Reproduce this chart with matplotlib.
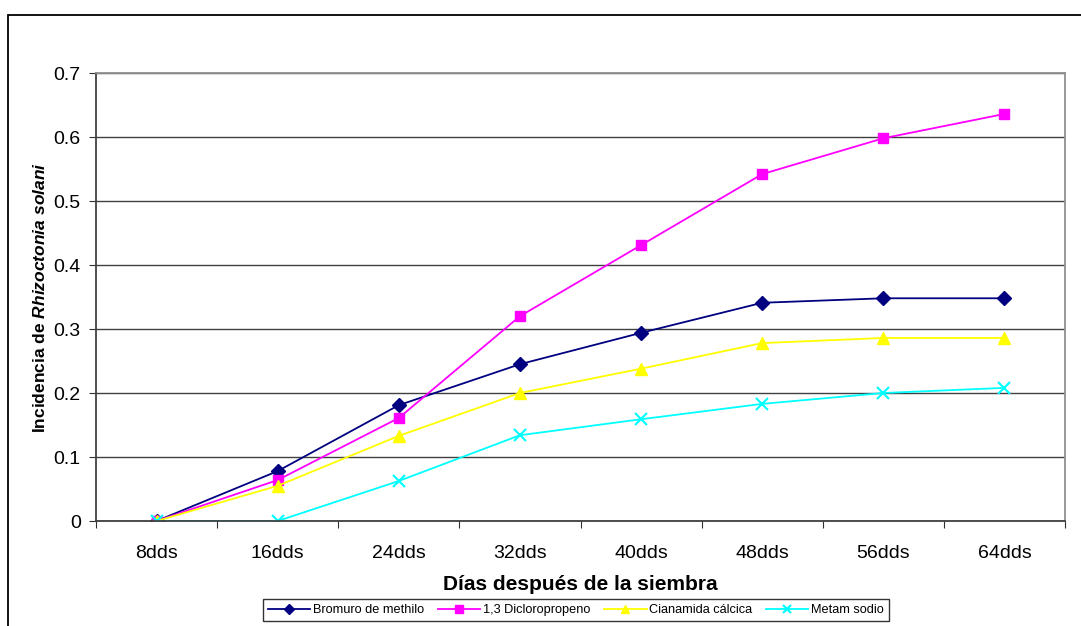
import matplotlib.pyplot as plt
from matplotlib.patches import Rectangle
import numpy as np

plt.rcParams['font.family'] = ['Liberation Sans', 'DejaVu Sans']
plt.rcParams['mathtext.fontset'] = 'custom'
plt.rcParams['mathtext.it'] = 'Liberation Sans:italic:bold'
plt.rcParams['mathtext.rm'] = 'Liberation Sans:bold'

# dias despues de la siembra
dias = ["8dds", "16dds", "24dds", "32dds", "40dds", "48dds", "56dds", "64dds"]

bromuro = [0.0, 0.078, 0.181, 0.245, 0.294, 0.341, 0.348, 0.348]
dicloro = [0.0, 0.064, 0.161, 0.320, 0.431, 0.542, 0.598, 0.636]
cianamida = [0.0, 0.055, 0.133, 0.200, 0.238, 0.278, 0.286, 0.286]
metam = [0.0, 0.0, 0.0625, 0.134, 0.159, 0.183, 0.200, 0.208]

series = [
    ("Bromuro de methilo", bromuro, "#000080", "D", 7),
    ("1,3 Dicloropropeno", dicloro, "#FF00FF", "s", 7),
    ("Cianamida cálcica", cianamida, "#FFFF00", "^", 8),
    ("Metam sodio", metam, "#00FFFF", "x", 8),
]

fig = plt.figure(figsize=(10.81, 6.26), dpi=100)
ax = fig.add_axes([96 / 1081, 1 - 521 / 626, (1065 - 96) / 1081, (521 - 73) / 626])

# outer chart border
fig.patches.append(Rectangle((8 / 1081, -0.05), 1.1, 1 - 15 / 626 + 0.05,
                             transform=fig.transFigure, fill=False,
                             edgecolor="black", linewidth=1.3))

x = np.arange(len(dias))
for name, vals, col, mk, ms in series:
    ax.plot(x, vals, color=col, lw=1.3, marker=mk, markersize=ms,
            markeredgecolor=col, markerfacecolor=col,
            markeredgewidth=1.5 if mk == "x" else 1, label=name)

ax.set_xlim(-0.5, len(dias) - 0.5)
ax.set_ylim(0, 0.7)
ax.set_yticks(np.arange(0, 0.71, 0.1))
ax.set_yticklabels(["0", "0.1", "0.2", "0.3", "0.4", "0.5", "0.6", "0.7"])
ax.yaxis.grid(True, color="#404040", lw=1)
ax.set_axisbelow(True)

ax.set_xticks(np.arange(-0.5, len(dias), 1))
ax.set_xticklabels([])
ax.set_xticks(x, minor=True)
ax.set_xticklabels(dias, minor=True)
ax.tick_params(axis="x", which="minor", length=0, pad=17)
ax.tick_params(axis="x", which="major", length=5, direction="out", color="#303030")
ax.tick_params(axis="y", length=5, direction="out", color="#303030", pad=6)
ax.tick_params(which="both", labelsize=14)

for s in ["left", "bottom"]:
    ax.spines[s].set_color("#404040")
    ax.spines[s].set_linewidth(1.3)
for s in ["top", "right"]:
    ax.spines[s].set_color("#909090")
    ax.spines[s].set_linewidth(1.3)

ax.set_xlabel("Días después de la siembra", fontsize=15, fontweight="bold", labelpad=10)
ax.set_ylabel(r"Incidencia de $\mathit{Rhizoctonia\ solani}$", fontsize=12.5,
              fontweight="bold", labelpad=4)

leg = fig.legend(loc="center", bbox_to_anchor=(576 / 1081, 1 - 610 / 626), ncol=4,
                 fontsize=9.2, frameon=True, fancybox=False, edgecolor="black",
                 handlelength=3.3, handletextpad=0.2, columnspacing=1.1,
                 borderpad=0.4, markerscale=0.75)
leg.get_frame().set_linewidth(1.0)

fig.savefig("out.png", dpi=100)
